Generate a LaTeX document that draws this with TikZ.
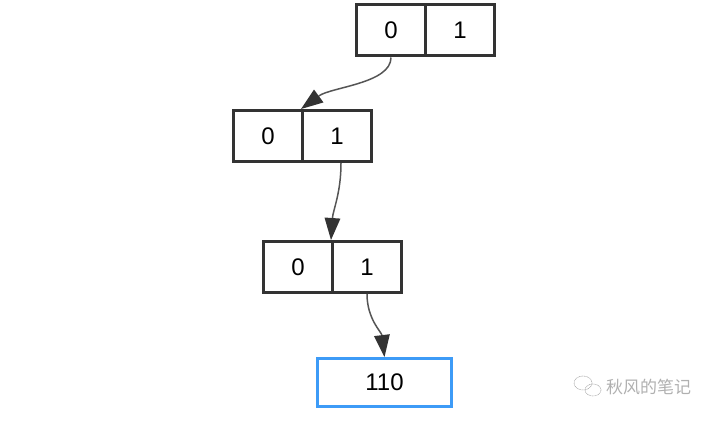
\documentclass[tikz,border=0pt]{standalone}
\usepackage{fontspec}
\setmainfont{Liberation Sans}
\newfontfamily\cjkfont{Noto Sans CJK SC}
\usetikzlibrary{arrows.meta,positioning,shapes.geometric}
\definecolor{boxline}{HTML}{333333}
\definecolor{edgeline}{HTML}{555555}
\definecolor{leafblue}{HTML}{3D9BF7}
\definecolor{markgray}{HTML}{B0B0B0}
\tikzset{
  cell/.style={draw=boxline, line width=3pt, minimum width=69pt, minimum height=51pt, inner sep=0pt, font=\fontsize{24}{28}\selectfont},
  leaf/.style={draw=leafblue, line width=3pt, minimum width=134pt, minimum height=48pt, inner sep=0pt, font=\fontsize{24}{28}\selectfont},
  link/.style={draw=edgeline, line width=1.5pt, -{Triangle[length=22pt,width=16pt,line width=0pt,fill=boxline]}},
}
\begin{document}
\begin{tikzpicture}[x=1pt,y=-1pt]
  \useasboundingbox (0,0) rectangle (714,420);
  % trie levels
  \node[cell] (a0) at (391,30.5) {0};
  \node[cell] (a1) at (460,30.5) {1};
  \node[cell] (b0) at (268,136) {0};
  \node[cell] (b1) at (337,136) {1};
  \node[cell] (c0) at (298,267) {0};
  \node[cell] (c1) at (367,267) {1};
  \node[leaf] (leaf) at (384.5,382.5) {110};
  % links
  \draw[link] (a0.south) .. controls +(0,26) and +(30,-22) .. (b1.north west);
  \draw[link] ([xshift=4pt]b1.south) .. controls +(0,30) and +(2,-30) .. (c1.north west);
  \draw[link] (c1.south) .. controls +(0,25) and +(-3,-25) .. (leaf.north);
  % watermark
  \draw[markgray, line width=0.6pt, dash pattern=on 1pt off 0.6pt] (583,383) ellipse (9 and 7);
  \draw[markgray, line width=0.6pt, dash pattern=on 1pt off 0.6pt] (593,390) ellipse (8 and 6);
  \node[text=markgray, font=\cjkfont\fontsize{17}{20}\selectfont, anchor=west, inner sep=0pt] (mark) at (606,387) {秋风的笔记};
\end{tikzpicture}
\end{document}
